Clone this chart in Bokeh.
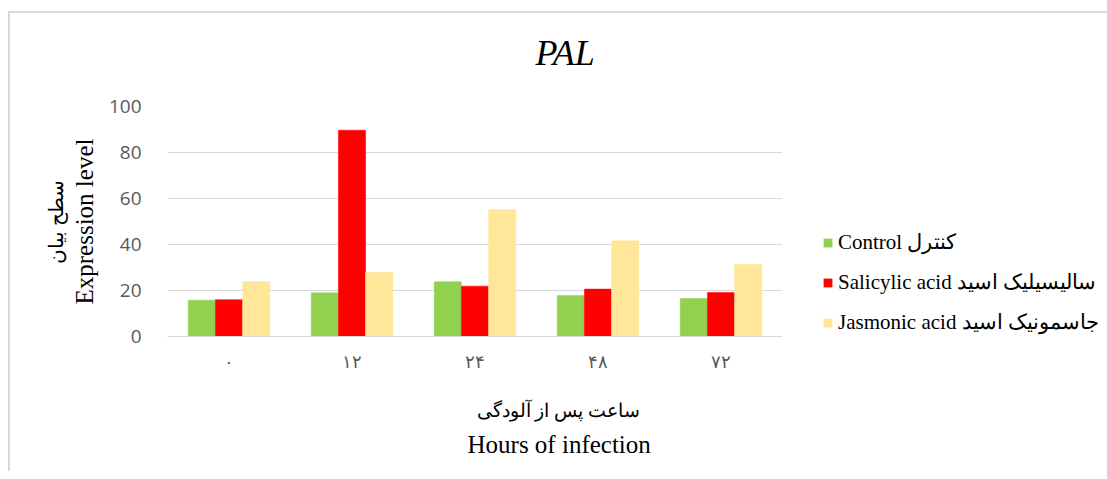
from bokeh.plotting import figure
from bokeh.models import (FactorRange, Range1d, Legend, LegendItem, Title, ColumnDataSource,
                          LinearAxis, FixedTicker)
from bokeh.layouts import row
from bokeh.transform import dodge
from bokeh.embed import file_html
from bokeh.resources import INLINE

# ---- data ----
hours = ["۰", "۱۲", "۲۴", "۴۸", "۷۲"]
control = [15.8, 19.0, 23.8, 17.8, 16.5]
salicylic = [16.0, 89.7, 21.9, 20.6, 19.1]
jasmonic = [23.9, 27.8, 55.1, 41.6, 31.3]
series_keys = ["control", "salicylic", "jasmonic"]
series_names = ["Control کنترل", "Salicylic acid سالیسیلیک اسید", "Jasmonic acid جاسمونیک اسید"]
series_colors = ["#92D050", "#FF0000", "#FFE699"]
y_ticks = [0, 20, 40, 60, 80, 100]

source = ColumnDataSource(dict(hours=hours, control=control, salicylic=salicylic, jasmonic=jasmonic))

p = figure(width=777, height=458,
           x_range=FactorRange(factors=hours, range_padding=0),
           y_range=Range1d(0, 100),
           output_backend="svg", toolbar_location=None,
           min_border_left=157, min_border_right=5,
           min_border_top=93, min_border_bottom=135)
p.outline_line_color = None
p.background_fill_color = "white"

bw = 0.221
for key, off, col in zip(series_keys, [-bw, 0.0, bw], series_colors):
    p.vbar(x=dodge("hours", off, range=p.x_range), top=key, width=bw, source=source,
           fill_color=col, line_color=col, line_width=0.5)

# grid
p.xgrid.grid_line_color = None
p.ygrid.grid_line_color = "#d9d9d9"
p.ygrid.grid_line_width = 1

# y axis (English title next to ticks)
p.yaxis.ticker = y_ticks
p.yaxis.axis_line_color = None
p.yaxis.major_tick_line_color = None
p.yaxis.minor_tick_line_color = None
p.yaxis.major_label_text_font = "Open Sans"
p.yaxis.major_label_text_font_size = "19px"
p.yaxis.major_label_text_color = "#595959"
p.yaxis.major_label_standoff = 20
p.yaxis.axis_label = "Expression level"
p.yaxis.axis_label_text_font = "Liberation Serif"
p.yaxis.axis_label_text_font_size = "25px"
p.yaxis.axis_label_text_font_style = "normal"
p.yaxis.axis_label_text_color = "black"
p.yaxis.axis_label_standoff = 8

# outer y title (Persian)
y2 = LinearAxis(ticker=FixedTicker(ticks=[]), axis_label="سطح بیان",
                axis_line_color=None, major_tick_line_color=None, minor_tick_line_color=None,
                major_tick_out=0, major_label_standoff=0, axis_label_standoff=1,
                axis_label_text_font="Liberation Serif", axis_label_text_font_size="20px",
                axis_label_text_font_style="normal", axis_label_text_color="black")
p.add_layout(y2, "left")

# x axis
p.xaxis.axis_line_color = "#d9d9d9"
p.xaxis.axis_line_width = 1
p.xaxis.major_tick_line_color = None
p.xaxis.minor_tick_line_color = None
p.xaxis.major_label_text_font = "Liberation Serif"
p.xaxis.major_label_text_font_size = "18px"
p.xaxis.major_label_text_color = "#595959"
p.xaxis.major_label_standoff = 9

# x titles (centred on the chart, not the plot area)
p.add_layout(Title(text=" ", text_font_size="19px", standoff=0), "below")
p.add_layout(Title(text="ساعت پس از آلودگی", text_font="Liberation Serif", text_font_size="19px",
                   text_font_style="normal", text_color="black", align="left", offset=309,
                   standoff=0), "below")
p.add_layout(Title(text=" ", text_font_size="5px", standoff=0), "below")
p.add_layout(Title(text="Hours of infection", text_font="Liberation Serif", text_font_size="25px",
                   text_font_style="normal", text_color="black", align="left", offset=300,
                   standoff=0), "below")

# title
p.title.text = "PAL"
p.title.text_font = "Liberation Serif"
p.title.text_font_style = "italic"
p.title.text_font_size = "36px"
p.title.text_color = "black"
p.title.align = "left"
p.title.offset = 368
p.add_layout(Title(text=" ", text_font_size="24px", standoff=0), "above")

# legend panel (separate figure to the right of the plot area); its proxy bars
# have zero width and no outline, so only the legend swatches show
p2 = figure(width=320, height=458, x_range=FactorRange(factors=hours), y_range=Range1d(200, 300),
            x_axis_type=None, y_axis_type=None, output_backend="svg", toolbar_location=None,
            min_border=0)
p2.outline_line_color = None
p2.xgrid.visible = False
p2.ygrid.visible = False
proxies = [p2.vbar(x="hours", top=k, width=0, source=source, fill_color=c, line_color=None)
           for k, c in zip(series_keys, series_colors)]
items = [LegendItem(label=n, renderers=[r]) for n, r in zip(series_names, proxies)]
legend = Legend(items=items, location=(35, 1), glyph_width=11, glyph_height=11,
                label_text_font="Liberation Serif", label_text_font_size="21px",
                label_text_color="black", spacing=15, padding=0, margin=0,
                border_line_color=None, background_fill_alpha=0, label_standoff=5)
p2.add_layout(legend)

layout = row(p, p2, spacing=0)
layout.styles = {"border-left": "2px solid #d9d9d9", "border-top": "2px solid #d9d9d9",
                 "margin-top": "11px", "margin-left": "8px"}

open("out.html", "w").write(file_html(layout, INLINE))
